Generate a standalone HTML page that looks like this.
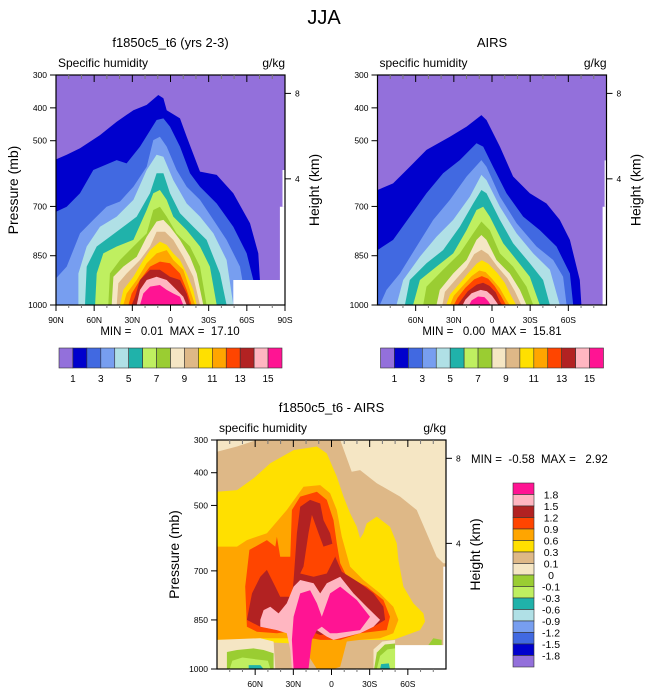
<!DOCTYPE html>
<html><head><meta charset="utf-8"><style>
body{margin:0;background:#fff;}
svg{display:block;font-family:"Liberation Sans",sans-serif;}
</style></head><body>
<svg id="fig" width="648" height="694" viewBox="0 0 648 694">
<text x="324" y="24" font-size="20" text-anchor="middle">JJA</text>
</svg>
<script>
const levelColors=["#9370DB","#0000CD","#4169E1","#779EF0","#B0E0E6","#20B2AA","#BFEF60","#9ACD32","#F5E6C4","#DEB887","#FFE000","#FFA500","#FF4500","#B22222","#FFB6C1","#FF1493"];
const topCbarLabels=["1","3","5","7","9","11","13","15"];
const diffCbarLabels=["1.8","1.5","1.2","0.9","0.6","0.3","0.1","0","-0.1","-0.3","-0.6","-0.9","-1.2","-1.5","-1.8"];
const pressureTicks=[300,400,500,700,850,1000];
const heightTickPressures=[356,616];
const heightTickLabels=["8","4"];
const latTicksFull=[90,60,30,0,-30,-60,-90];
const latLabelsFull=["90N","60N","30N","0","30S","60S","90S"];
const latTicksShort=[60,30,0,-30,-60];
const latLabelsShort=["60N","30N","0","30S","60S"];
const modelLevels=[
[[90,557],[81.6,543],[71.1,523],[55.4,483],[42.3,442],[29.2,407],[18.7,391],[9.6,361],[5.6,371],[3,407],[-7.5,432],[-12.7,488],[-23.2,594],[-36.3,604],[-49.4,660],[-62.5,751],[-69,843],[-70.3,924],[-70.3,1000]],
[[90,716],[81.6,701],[71.1,660],[60.7,589],[42.3,559],[34.5,569],[24,518],[10.9,437],[5.6,432],[0.4,457],[-7.5,518],[-15.3,599],[-23.2,640],[-36.3,691],[-49.4,762],[-59.9,843],[-65.1,924],[-66.4,1000]],
[[90,919],[81.6,883],[71.1,782],[60.7,741],[50.2,701],[39.7,685],[29.2,640],[18.7,579],[13.5,498],[8.3,488],[3,518],[-4.8,589],[-12.7,640],[-23.2,680],[-33.7,741],[-44.1,802],[-54.6,883],[-59.9,1000]],
[[72.4,904],[65.9,822],[55.4,762],[42.3,731],[29.2,680],[18.7,589],[10.9,543],[5.6,549],[-2.2,620],[-12.7,691],[-23.2,731],[-33.7,782],[-44.1,863],[-49.4,1000]],
[[67.2,1000],[65.9,883],[58,822],[47.6,792],[37.1,762],[26.6,731],[16.1,660],[10.9,599],[5.6,599],[0.4,660],[-7.5,721],[-17.9,762],[-28.4,802],[-38.9,904],[-44.1,1000]],
[[59.3,1000],[58,904],[52.8,843],[42.3,822],[29.2,802],[18.7,711],[13.5,660],[8.3,650],[3,680],[-2.2,731],[-12.7,772],[-23.2,822],[-31,883],[-36.3,1000]],
[[48.9,1000],[47.6,904],[39.7,863],[29.2,822],[18.7,782],[13.5,711],[8.3,701],[3,731],[-4.8,782],[-15.3,822],[-23.2,883],[-28.4,1000]],
[[46.2,1000],[44.9,914],[37.1,883],[26.6,853],[18.7,792],[10.9,746],[5.6,741],[0.4,762],[-7.5,802],[-15.3,853],[-20.6,904],[-25.8,1000]],
[[42.3,1000],[41,934],[34.5,904],[24,863],[16.1,822],[10.9,777],[4.3,777],[-2.2,802],[-10.1,853],[-17.9,914],[-23.2,1000]],
[[39.7,1000],[37.1,954],[29.2,914],[21.4,863],[16.1,833],[8.3,807],[3,817],[-2.2,843],[-7.5,863],[-12.7,904],[-17.9,954],[-20.6,1000]],
[[37.1,1000],[34.5,965],[26.6,924],[18.7,873],[10.9,843],[3,833],[-2.2,863],[-10.1,893],[-15.3,954],[-19.3,1000]],
[[33.1,1000],[30.5,965],[24,924],[16.1,883],[8.3,868],[0.4,873],[-7.5,904],[-12.7,954],[-16.6,1000]],
[[30.5,1000],[27.9,975],[24,924],[16.1,893],[8.3,893],[0.4,914],[-7.5,924],[-12.7,965],[-15.3,1000]],
[[26.6,1000],[24,954],[18.7,924],[10.9,914],[3,924],[-4.8,954],[-10.1,975],[-12.7,1000]],
[[24,1000],[21.4,965],[16.1,944],[8.3,939],[3,954],[-2.2,965],[-7.5,975],[-10.1,1000]]
];
const airsLevels=[
[[90,650],[77.7,630],[64.6,579],[51.5,528],[33.1,488],[20,457],[8.3,422],[4.3,437],[-6.2,518],[-16.6,609],[-29.7,660],[-42.8,691],[-53.3,741],[-61.2,802],[-69,924],[-70.3,1000]],
[[90,833],[77.7,802],[64.6,731],[51.5,660],[38.4,599],[25.3,559],[12.2,508],[6.9,518],[-0.9,579],[-11.4,660],[-24.5,731],[-37.6,772],[-50.7,822],[-61.2,904],[-63.8,1000]],
[[88.2,1000],[82.9,954],[72.4,904],[59.3,822],[46.2,741],[33.1,680],[20,609],[8.3,559],[4.3,579],[-6.2,670],[-19.3,751],[-35,822],[-48.1,863],[-55.9,914],[-58.6,1000]],
[[75.1,1000],[69.8,924],[56.7,853],[43.6,792],[30.5,741],[17.4,670],[8.3,604],[4.3,620],[-6.2,701],[-19.3,782],[-32.4,843],[-45.5,893],[-53.3,1000]],
[[68.5,1000],[64.6,924],[51.5,873],[38.4,833],[25.3,762],[14.8,691],[8.3,650],[4.3,660],[-6.2,741],[-16.6,812],[-29.7,873],[-40.2,924],[-45.5,1000]],
[[62,1000],[56.7,924],[43.6,883],[30.5,843],[20,772],[12.2,711],[6.9,701],[1.7,731],[-8.8,812],[-19.3,863],[-29.7,914],[-37.6,1000]],
[[54.1,1000],[51.5,944],[38.4,893],[25.3,843],[14.8,782],[8.3,746],[1.7,772],[-6.2,843],[-16.6,883],[-27.1,944],[-32.4,1000]],
[[43.6,1000],[41,954],[30.5,904],[20,863],[12.2,802],[8.3,787],[4.3,802],[-3.5,863],[-14,904],[-21.9,954],[-27.1,1000]],
[[39,1000],[37,960],[28,920],[20,885],[14,845],[8.3,832],[3,845],[-4,882],[-12,918],[-18,958],[-23,1000]],
[[36,1000],[33,968],[25,932],[18,900],[12,874],[8,864],[3,874],[-4,902],[-10,932],[-15,972],[-19,1000]],
[[33,1000],[30,972],[23,942],[16,912],[10,895],[5,900],[0,920],[-6,948],[-11,982],[-14,1000]],
[[30,1000],[27,978],[21,948],[14,922],[8,912],[3,920],[-2,942],[-7,972],[-11,1000]],
[[27,1000],[24,984],[19,958],[12,938],[7,932],[2,942],[-3,962],[-6,988],[-8,1000]],
[[23,1000],[21,984],[16,964],[9,954],[4,958],[0,972],[-3,988],[-5,1000]],
[[18,1000],[16,986],[11,974],[6,976],[3,988],[1,1000]]
];
const diffShapes=[
[9,[[90,336],[74.3,320],[58.6,300],[-6.8,300],[-15.9,397],[-22.5,392],[-35.6,432],[-53.9,473],[-67,514],[-74.8,585],[-82.7,657],[-87.9,677],[-90,677],[-90,1000],[90,1000]]],
[10,[[90,458],[74.3,453],[61.2,417],[48.1,371],[29.8,331],[11.5,320],[3.7,341],[-4.2,412],[-9.4,473],[-14.6,524],[-19.9,565],[-22.5,601],[-25.1,585],[-27.7,555],[-35.6,534],[-46,565],[-51.3,616],[-52.6,667],[-56.5,748],[-64.3,799],[-72.2,830],[-73.5,855],[-69.6,881],[-48.6,911],[-22.5,911],[29.8,922],[90,911]]],
[11,[[90,626],[74.3,626],[66.5,606],[50.8,585],[35.1,514],[22,443],[8.9,438],[1.1,463],[-4.2,514],[-8.1,596],[-14.6,687],[-25.1,728],[-38.2,769],[-48.6,810],[-52.6,850],[-48.6,891],[-38.2,906],[-22.5,911],[-12,916],[-6.8,993],[-1.6,1000],[11.5,1000],[19.4,952],[24.6,911],[29.8,906],[56,906],[82.2,911],[90,911]]],
[12,[[64.5,636],[50.8,606],[44.2,626],[42.9,596],[40.3,657],[32.4,657],[31.1,514],[24.6,473],[11.5,458],[3.7,483],[-1.6,545],[-4.2,616],[-6.8,677],[-12,718],[-27.7,748],[-40.8,789],[-46,840],[-43.4,881],[-22.5,891],[-6.8,911],[8.9,911],[22,901],[24.6,881],[42.9,891],[58.6,886],[66.5,871],[67.8,748]]],
[13,[[66.5,850],[62.5,769],[56,718],[50.8,697],[44.2,748],[40.3,779],[31.1,779],[29.8,728],[27.2,585],[24.6,504],[16.8,483],[8.9,494],[6.3,545],[1.1,585],[-2.9,657],[-8.1,703],[-22.5,738],[-33,769],[-40.8,810],[-42.1,850],[-33,871],[-12,881],[-1.6,891],[8.9,896],[19.4,881],[29.8,881],[42.9,881],[56,871]]],
[12,[[22,687],[18.1,585],[15.4,529],[10.2,585],[6.3,626],[-1.6,616],[-2.9,657],[3.7,708],[14.1,718],[24.6,708]]],
[14,[[56,850],[53.4,820],[48.1,810],[41.6,830],[35.1,799],[29.8,748],[24.6,728],[14.1,738],[8.9,769],[3.7,738],[-6.8,718],[-17.3,769],[-27.7,810],[-38.2,850],[-33,871],[-22.5,891],[-12,901],[-1.6,911],[3.7,901],[11.5,881],[14.1,891],[19.4,932],[22,1000],[31.1,1000],[32.4,942],[35.1,891],[42.9,881],[56,871]]],
[15,[[29.8,840],[24.6,769],[16.8,759],[11.5,799],[7.6,840],[1.1,769],[-6.8,748],[-19.9,789],[-30.3,840],[-22.5,881],[-4.2,891],[1.1,891],[7.6,871],[11.5,881],[15.4,911],[18.1,1000],[29.8,1000],[31.1,911]]],
[8,[[90,911],[56,906],[45.5,916],[44.2,1000],[90,1000]]],
[7,[[82.2,1000],[82.2,948],[74.3,942],[61.2,937],[53.4,942],[45.5,952],[45.5,1000]]],
[6,[[80,1000],[78,975],[70,965],[60,970],[50,975],[48,1000]]],
[5,[[65.1,1000],[65.1,988],[56,988],[53.4,1000]]],
[8,[[-33,1000],[-33,940],[-40,916],[-50,911],[-50,1000]]],
[7,[[-33.5,1000],[-35.6,950],[-42,925],[-50,922],[-50,1000]]],
[6,[[-35.6,1000],[-38.2,960],[-44,940],[-50,937],[-50,1000]]],
[5,[[-38.2,1000],[-39,985],[-45,983],[-46,1000]]],
[7,[[-76.1,927],[-80,906],[-86.6,911],[-86.6,927]]]
];
const modelMissing=[[[-49.4,924],[-90,924],[-90,1000],[-49.4,1000]],[[-86,701],[-90,701],[-90,1000],[-86,1000]],[[-88,589],[-90,589],[-90,701],[-88,701]]];
const airsMissing=[[[-86.9,701],[-90,701],[-90,1000],[-86.9,1000]],[[-88.5,560],[-90,560],[-90,701],[-88.5,701]]];
const diffMissing=[[[-50,927],[-90,927],[-90,1000],[-50,1000]],[[-87.9,687],[-90,687],[-90,1000],[-87.9,1000]]];

const NS="http://www.w3.org/2000/svg";
const fig=document.getElementById('fig');
function el(tag,attrs,parent){const e=document.createElementNS(NS,tag);for(const k in attrs)e.setAttribute(k,attrs[k]);(parent||fig).appendChild(e);return e;}
function txt(x,y,s,size,anchor,parent){const t=el('text',{x:x,y:y,'font-size':size,'text-anchor':anchor||'middle'},parent);t.textContent=s;return t;}

function makePanel(o){
  const g=el('g',{});
  
  
  const W=229,H=o.h||230;
  const X=lat=>o.x+(90-lat)/180*W;
  const Y=p=>o.y+(p-300)/700*H;
  const bg=el('rect',{x:o.x,y:o.y,width:W,height:H,fill:o.bg},g);
  
  
  const poly=(pts,fill,closeBottom)=>{
    let arr=pts.map(q=>X(q[0]).toFixed(1)+','+Y(q[1]).toFixed(1));
    if(closeBottom){arr.unshift(X(pts[0][0]).toFixed(1)+','+Y(1000).toFixed(1));arr.push(X(pts[pts.length-1][0]).toFixed(1)+','+Y(1000).toFixed(1));}
    return el('polygon',{points:arr.join(' '),fill:fill},g);
  };
  if(o.levels){o.levels.forEach((pts,i)=>{
    const pl=poly(pts,levelColors[i+1],true);
    
    
  });}
  if(o.shapes){o.shapes.forEach((s,i)=>{
    const pl=poly(s[1],levelColors[s[0]],false);
    
    
  });}
  o.missing.forEach(m=>{const pl=poly(m,'#fff',false);
    
    });
  el('rect',{x:o.x,y:o.y,width:W,height:H,fill:'none',stroke:'#000','stroke-width':1.2},g);
  pressureTicks.forEach(p=>{
    el('line',{x1:o.x-6,x2:o.x,y1:Y(p),y2:Y(p),stroke:'#000'},g);
    const t=txt(o.x-9,Y(p)+3,String(p),8.5,'end',g);
    
    
  });
  heightTickPressures.forEach((p,i)=>{
    el('line',{x1:o.x+W,x2:o.x+W+6,y1:Y(p),y2:Y(p),stroke:'#000'},g);
    const t=txt(o.x+W+10,Y(p)+3,heightTickLabels[i],8.5,'start',g);
    
    
  });
  for(let l=90;l>=-90;l-=10){
    const major=l%30===0;
    el('line',{x1:X(l),x2:X(l),y1:o.y,y2:o.y+(major?7:4),stroke:major?'#000':'#777'},g);
    if(!(o.short&&Math.abs(l)===90)){
      el('line',{x1:X(l),x2:X(l),y1:o.y+H,y2:o.y+H+(major?6:3),stroke:major?'#000':'#777'},g);
    }
  }
  const lt=o.short?latTicksShort:latTicksFull, ll=o.short?latLabelsShort:latLabelsFull;
  lt.forEach((l,i)=>{const t=txt(X(l),o.y+H+18,ll[i],8.5,'middle',g);
    
    });
  const t1=txt(o.x+2,o.y-8,o.sub,12,'start',g);
  
  
  const t2=txt(o.x+W,o.y-8,'g/kg',12,'end',g);
  
  
  const t3=txt(o.x+W/2,o.y-28,o.title,13,'middle',g);
  
  
  if(!o.noPressureTitle){
    const py=el('text',{x:0,y:0,'font-size':14,'text-anchor':'middle',transform:'translate('+(o.x-38)+','+(o.y+H/2)+') rotate(-90)'},g);
    py.textContent='Pressure (mb)';
    
    
  }
  const hy=el('text',{x:0,y:0,'font-size':14,'text-anchor':'middle',transform:'translate('+(o.x+W+34)+','+(o.y+H/2)+') rotate(-90)'},g);
  hy.textContent='Height (km)';
  
  
  const mm=txt(o.mmx,o.mmy,o.minmax,11.5,o.mmAnchor,g);
  
  
  mm.setAttribute('xml:space','preserve');
  mm.style.whiteSpace='pre';
}

function hCbar(x0,y0,name){
  const g=el('g',{});
  
  
  const w=223/16;
  levelColors.forEach((c,i)=>{const r=el('rect',{x:x0+i*w,y:y0,width:w,height:20,fill:c,stroke:'#333','stroke-width':0.6},g);
    
    });
  topCbarLabels.forEach((s,i)=>{const t=txt(x0+(2*i+1)*w,y0+34,s,10,'middle',g);
    
    });
}
function vCbar(x0,y0){
  const g=el('g',{});
  
  
  const h=184/16;
  levelColors.slice().reverse().forEach((c,i)=>{const r=el('rect',{x:x0,y:y0+i*h,width:21,height:h,fill:c,stroke:'#333','stroke-width':0.6},g);
    
    });
  diffCbarLabels.forEach((s,i)=>{const t=txt(x0+38,y0+(i+1)*h+4,s,10.5,'middle',g);
    
    });
}

makePanel({name:'model-panel',x:56,y:75,bg:levelColors[0],levels:modelLevels,missing:modelMissing,title:'f1850c5_t6 (yrs 2-3)',sub:'Specific humidity',minmax:'MIN =   0.01  MAX =  17.10',mmx:170,mmy:335,mmAnchor:'middle'});
makePanel({name:'airs-panel',x:377.5,y:75,bg:levelColors[0],levels:airsLevels,missing:airsMissing,short:true,noPressureTitle:true,title:'AIRS',sub:'specific humidity',minmax:'MIN =   0.00  MAX =  15.81',mmx:492,mmy:335,mmAnchor:'middle'});
makePanel({name:'difference-panel',x:217,y:440,h:229,bg:levelColors[8],shapes:diffShapes,missing:diffMissing,short:true,title:'f1850c5_t6 - AIRS',sub:'specific humidity',minmax:'MIN =  -0.58  MAX =   2.92',mmx:471,mmy:463,mmAnchor:'start'});
hCbar(59,348,'model-colorbar');
hCbar(380.5,348,'airs-colorbar');
vCbar(513,483);
</script>
</body></html>
